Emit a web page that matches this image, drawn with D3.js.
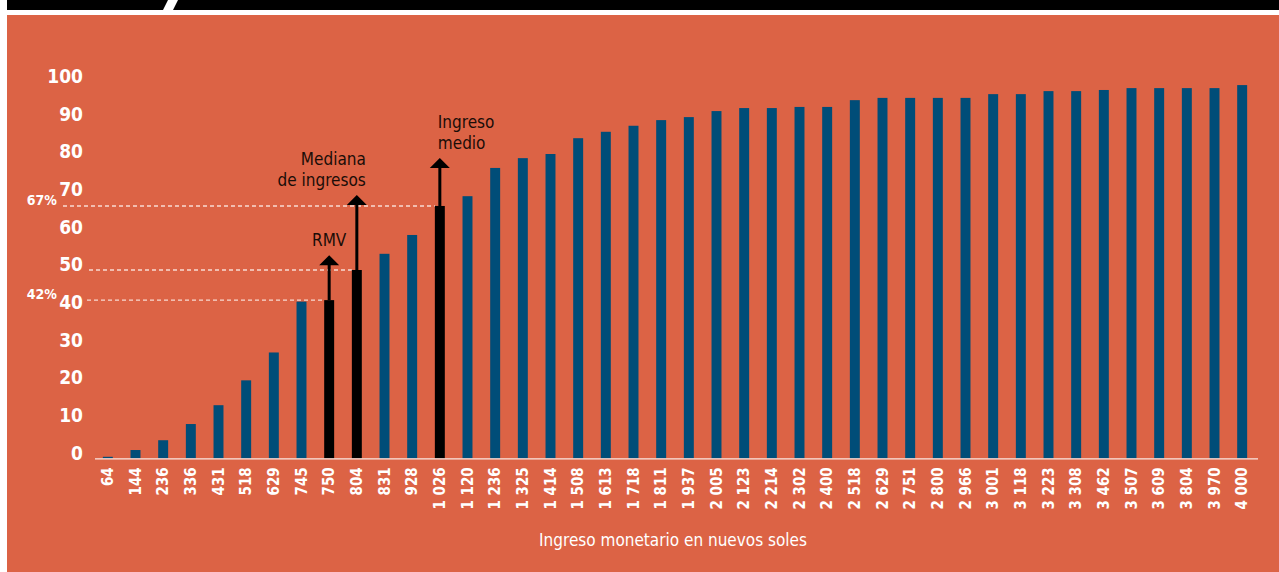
<!DOCTYPE html>
<html>
<head>
<meta charset="utf-8">
<script src="https://cdn.jsdelivr.net/npm/d3@7"></script>
<style>
  body { margin: 0; background: #ffffff; }
  svg { display: block; }
  text { font-stretch: condensed; }
</style>
</head>
<body>
<div id="chart"></div>
<script>
// income brackets (nuevos soles)
var categories = ["64", "144", "236", "336", "431", "518", "629", "745", "750", "804",
  "831", "928", "1 026", "1 120", "1 236", "1 325", "1 414", "1 508", "1 613", "1 718",
  "1 811", "1 937", "2 005", "2 123", "2 214", "2 302", "2 400", "2 518", "2 629", "2 751",
  "2 800", "2 966", "3 001", "3 118", "3 223", "3 308", "3 462", "3 507", "3 609", "3 804",
  "3 970", "4 000"];

// cumulative % of people
var values = [0.4, 2.2, 4.8, 9.1, 14.1, 20.7, 28.1, 41.6, 42, 50,
  54.3, 59.3, 67, 69.6, 77.1, 79.7, 80.8, 85.0, 86.7, 88.3,
  89.8, 90.6, 92.2, 93.0, 93.0, 93.3, 93.3, 95.1, 95.7, 95.7,
  95.7, 95.7, 96.7, 96.7, 97.5, 97.5, 97.8, 98.3, 98.3, 98.3,
  98.3, 99.1];

var yTicks = [0, 10, 20, 30, 40, 50, 60, 70, 80, 90, 100];

// highlighted bars with arrow + label
var marks = [
  {cat: "750", lines: ["RMV"], anchor: "middle", arrow: 45},
  {cat: "804", lines: ["Mediana", "de ingresos"], anchor: "end", arrow: 75},
  {cat: "1 026", lines: ["Ingreso", "medio"], anchor: "start", arrow: 48}
];

// dashed reference lines
var refLines = [
  {cat: "750", label: "42%", x0: 87},
  {cat: "804", label: null, x0: 89},
  {cat: "1 026", label: "67%", x0: 63}
];

var W = 1279, H = 572;
var font = "'DejaVu Sans', sans-serif";

var svg = d3.select('#chart').append("svg")
  .attr("width", W)
  .attr("height", H);

// header band
svg.append("rect").attr("x", 7).attr("y", 0).attr("width", W - 7).attr("height", 10).style("fill", "#000");
svg.append("polygon").attr("points", "168,0 178,0 173,10 163,10").style("fill", "#fff");

// orange panel
svg.append("rect").attr("x", 7).attr("y", 15).attr("width", W - 7).attr("height", H - 15).style("fill", "#DC6345");

// scales
var x = d3.scaleBand().domain(categories).range([94, 1256]).paddingInner(0.64).paddingOuter(0.32);
var y = d3.scaleLinear().domain([0, 100]).range([458.3, 81.7]);

var highlight = marks.map(function(m) { return m.cat; });
var valueOf = function(c) { return values[categories.indexOf(c)]; };

// dashed lines
refLines.forEach(function(r) {
  var v = valueOf(r.cat);
  svg.append("line")
    .attr("x1", r.x0).attr("x2", x(r.cat))
    .attr("y1", y(v)).attr("y2", y(v))
    .style("stroke", "#f8dcd2").style("stroke-width", 1.3)
    .style("stroke-dasharray", "4,3");
  if (r.label) {
    svg.append("text")
      .attr("x", 57).attr("y", y(v) - 1)
      .attr("text-anchor", "end")
      .style("font-family", font).style("font-weight", "bold")
      .style("font-size", "14px").style("fill", "#fff")
      .text(r.label);
  }
});

// bars
svg.selectAll(".bar")
  .data(categories)
  .enter().append("rect")
  .attr("class", "bar")
  .attr("x", function(d) { return x(d); })
  .attr("width", x.bandwidth())
  .attr("y", function(d, i) { return y(values[i]); })
  .attr("height", function(d, i) { return y(0) - y(values[i]); })
  .style("fill", function(d) { return highlight.indexOf(d) >= 0 ? "#000" : "#004D78"; });

// x axis
var xAxis = svg.append("g")
  .attr("transform", "translate(0," + y(0) + ")")
  .call(d3.axisBottom(x).tickSize(0).tickPadding(0));
xAxis.select(".domain").remove();
xAxis.append("line").attr("x1", 95).attr("x2", 1258).attr("y1", 0.5).attr("y2", 0.5)
  .style("stroke", "#fff").style("stroke-opacity", 0.85).style("stroke-width", 1.2);
xAxis.selectAll("text")
  .attr("transform", "rotate(-90)")
  .attr("x", -9).attr("y", 0).attr("dy", "0.35em")
  .attr("text-anchor", "end")
  .style("font-family", font).style("font-weight", "bold")
  .style("font-size", "15px").style("fill", "#fff");

// y axis
var yAxis = svg.append("g")
  .attr("transform", "translate(83,0)")
  .call(d3.axisLeft(y).tickValues(yTicks).tickSize(0).tickPadding(0));
yAxis.select(".domain").remove();
yAxis.selectAll("text")
  .attr("dy", "0.05em")
  .style("font-family", font).style("font-weight", "bold")
  .style("font-size", "19px").style("fill", "#fff");

// arrows + labels
marks.forEach(function(m) {
  var cx = x(m.cat) + x.bandwidth() / 2;
  var top = y(valueOf(m.cat));
  var tip = top - m.arrow;
  svg.append("line")
    .attr("x1", cx).attr("x2", cx).attr("y1", top).attr("y2", tip + 9)
    .style("stroke", "#000").style("stroke-width", 3);
  svg.append("path")
    .attr("d", "M" + (cx - 10) + "," + (tip + 10) + "L" + cx + "," + tip + "L" + (cx + 10) + "," + (tip + 10) + "Z")
    .style("fill", "#000");
  var tx = m.anchor === "end" ? cx + 9 : (m.anchor === "start" ? cx - 2 : cx);
  var n = m.lines.length;
  m.lines.forEach(function(l, i) {
    svg.append("text")
      .attr("x", tx).attr("y", tip - 9 - (n - 1 - i) * 21)
      .attr("text-anchor", m.anchor)
      .style("font-family", font).style("font-size", "17px").style("fill", "#1a0d08")
      .text(l);
  });
});

// x axis title
svg.append("text")
  .attr("x", 673).attr("y", 546)
  .attr("text-anchor", "middle")
  .style("font-family", font).style("font-size", "17px").style("fill", "#fff")
  .text("Ingreso monetario en nuevos soles");
</script>
</body>
</html>
